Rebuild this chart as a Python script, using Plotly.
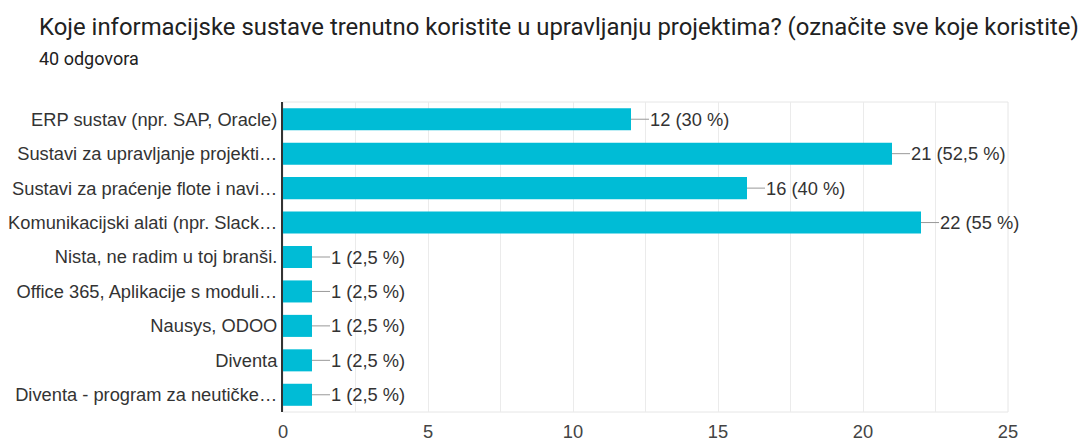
import plotly.graph_objects as go

categories = [
    "ERP sustav (npr. SAP, Oracle)",
    "Sustavi za upravljanje projekti…",
    "Sustavi za praćenje flote i navi…",
    "Komunikacijski alati (npr. Slack…",
    "Nista, ne radim u toj branši.",
    "Office 365, Aplikacije s moduli…",
    "Nausys, ODOO",
    "Diventa",
    "Diventa - program za neutičke…",
]
counts = [12, 21, 16, 22, 1, 1, 1, 1, 1]
labels = ["12 (30 %)", "21 (52,5 %)", "16 (40 %)", "22 (55 %)",
          "1 (2,5 %)", "1 (2,5 %)", "1 (2,5 %)", "1 (2,5 %)", "1 (2,5 %)"]
tick_vals = [0, 5, 10, 15, 20, 25]

FS = 18.3
fig = go.Figure()
fig.add_trace(go.Bar(
    y=categories, x=counts, orientation="h",
    marker=dict(color="#00BCD6", line=dict(width=0)),
    width=0.64, hoverinfo="skip",
))

for c, v, t in zip(categories, counts, labels):
    fig.add_annotation(
        x=v, y=c, xref="x", yref="y", text=t, showarrow=True,
        arrowhead=0, arrowwidth=1, arrowcolor="#999999",
        ax=18, ay=0, xanchor="left", borderpad=0, standoff=0,
        font=dict(family="Liberation Sans, Arial", size=FS, color="#333333"),
    )

fig.add_shape(type="rect", xref="paper", yref="paper", x0=0, x1=1, y0=0, y1=1,
              line=dict(color="#E6E6E6", width=1), layer="below")

PW, PH = 725, 310
fig.update_layout(
    width=1080, height=441,
    margin=dict(l=283, r=72, t=102, b=29),
    paper_bgcolor="white", plot_bgcolor="white",
    showlegend=False,
    xaxis=dict(range=[0, 25], tickvals=tick_vals, showgrid=True,
               gridcolor="#EBEBEB", gridwidth=1, automargin=False,
               minor=dict(dtick=2.5, showgrid=True, gridcolor="#EBEBEB", gridwidth=1),
               zeroline=False, showline=False, ticks="", ticklabelstandoff=7,
               tickfont=dict(family="Liberation Sans, Arial", size=FS, color="#444444")),
    yaxis=dict(autorange="reversed", showline=True, linecolor="#333333", linewidth=2,
               ticks="", ticklabelstandoff=0, automargin=False,
               tickfont=dict(family="Liberation Sans, Arial", size=FS, color="#333333")),
    font=dict(family="Liberation Sans, Arial"),
)

fig.add_annotation(xref="paper", yref="paper", x=-246 / PW, y=1 + 75 / PH,
                   xanchor="left", yanchor="middle", showarrow=False,
                   text="Koje informacijske sustave trenutno koristite u upravljanju projektima? (označite sve koje koristite)",
                   font=dict(family="Roboto", size=23.9, color="#212121"))
fig.add_annotation(xref="paper", yref="paper", x=-246 / PW, y=1 + 44 / PH,
                   xanchor="left", yanchor="middle", showarrow=False,
                   text="40 odgovora",
                   font=dict(family="Roboto", size=18, color="#212121"))

fig.write_html("out.html")
